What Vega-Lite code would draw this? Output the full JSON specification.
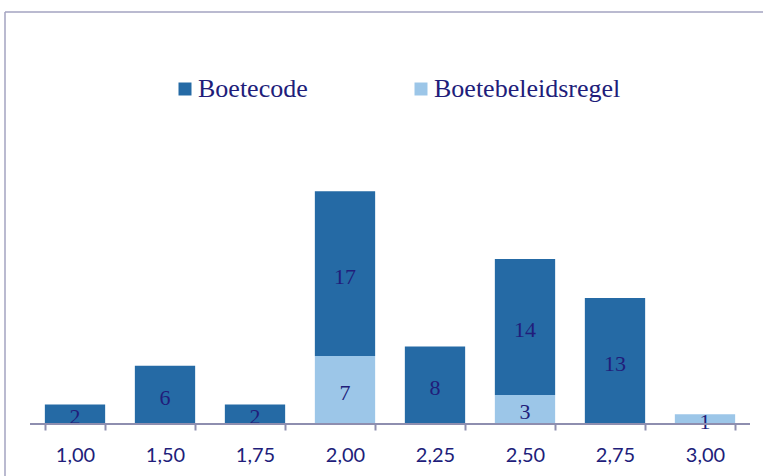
{
  "$schema": "https://vega.github.io/schema/vega-lite/v6.json",
  "autosize": {"type": "none"},
  "padding": {"left": 5, "top": 12, "right": 10, "bottom": 0},
  "width": 748,
  "height": 464,
  "background": "white",
  "view": {"stroke": null},
  "config": {
    "font": "Liberation Serif"
  },
  "data": {
    "values": [
      {"cat": "1,00", "type": "Boetecode", "value": 2},
      {"cat": "1,50", "type": "Boetecode", "value": 6},
      {"cat": "1,75", "type": "Boetecode", "value": 2},
      {"cat": "2,00", "type": "Boetecode", "value": 17},
      {"cat": "2,00", "type": "Boetebeleidsregel", "value": 7},
      {"cat": "2,25", "type": "Boetecode", "value": 8},
      {"cat": "2,50", "type": "Boetecode", "value": 14},
      {"cat": "2,50", "type": "Boetebeleidsregel", "value": 3},
      {"cat": "2,75", "type": "Boetecode", "value": 13},
      {"cat": "3,00", "type": "Boetebeleidsregel", "value": 1}
    ]
  },
  "layer": [
    {
      "mark": {"type": "bar"},
      "encoding": {
        "x": {
          "field": "cat",
          "type": "nominal",
          "sort": null,
          "scale": {"paddingInner": 0.33, "paddingOuter": 0.3206, "align": 0.6906},
          "axis": {
            "title": null,
            "labelAngle": 0,
            "domain": false,
            "offset": -52,
            "tickBand": "extent",
            "tickSize": 6,
            "tickWidth": 2,
            "tickColor": "#8e8eaf",
            "labelFont": "Lato",
            "labelFontSize": 20,
            "labelColor": "#211d7a",
            "labelPadding": 15
          }
        },
        "y": {
          "field": "value",
          "type": "quantitative",
          "stack": "zero",
          "scale": {"domain": [-5.361, 42.474], "nice": false, "zero": false},
          "axis": null
        },
        "color": {
          "field": "type",
          "type": "nominal",
          "scale": {"domain": ["Boetecode", "Boetebeleidsregel"], "range": ["#256aa5", "#9cc6e8"]},
          "legend": {
            "title": null,
            "orient": "none",
            "direction": "horizontal",
            "legendX": 167,
            "legendY": 64,
            "padding": 0,
            "symbolType": "square",
            "symbolSize": 169,
            "symbolStrokeWidth": 0,
            "symbolOpacity": 1,
            "labelFont": "Liberation Serif",
            "labelFontSize": 26,
            "labelColor": "#211d7a",
            "labelOffset": 0,
            "columnPadding": 100,
            "labelLimit": 400
          }
        },
        "order": {"field": "type", "sort": "ascending"}
      }
    },
    {
      "mark": {"type": "text", "font": "Liberation Serif", "fontSize": 22, "color": "#211d7a", "baseline": "middle", "dy": 3},
      "encoding": {
        "x": {"field": "cat", "type": "nominal", "sort": null},
        "y": {"field": "value", "type": "quantitative", "stack": "zero", "bandPosition": 0.5},
        "detail": {"field": "type"},
        "order": {"field": "type", "sort": "ascending"},
        "text": {"field": "value", "type": "quantitative"}
      }
    },
    {
      "data": {"values": [{"a": "1,00", "b": "3,00", "v": 0}]},
      "mark": {"type": "rule", "color": "#8e8eaf", "strokeWidth": 2},
      "encoding": {
        "x": {"field": "a", "type": "nominal", "bandPosition": -0.2463},
        "x2": {"field": "b", "bandPosition": 1.2463},
        "y": {"field": "v", "type": "quantitative"}
      }
    },
    {
      "data": {"values": [{"a": "1,00", "b": "3,00", "v": 0, "top": 42.474}]},
      "mark": {"type": "rule", "color": "#a3a3c1", "strokeWidth": 1.5},
      "encoding": {
        "x": {"field": "a", "type": "nominal", "bandPosition": -0.6609},
        "y": {"field": "top", "type": "quantitative"},
        "y2": {"datum": -5.361}
      }
    },
    {
      "data": {"values": [{"a": "1,00", "b": "3,00", "v": 0, "top": 42.474}]},
      "mark": {"type": "rule", "color": "#a3a3c1", "strokeWidth": 1.5},
      "encoding": {
        "x": {"field": "a", "type": "nominal", "bandPosition": -0.6609},
        "x2": {"field": "b", "bandPosition": 2},
        "y": {"field": "top", "type": "quantitative"}
      }
    }
  ]
}
